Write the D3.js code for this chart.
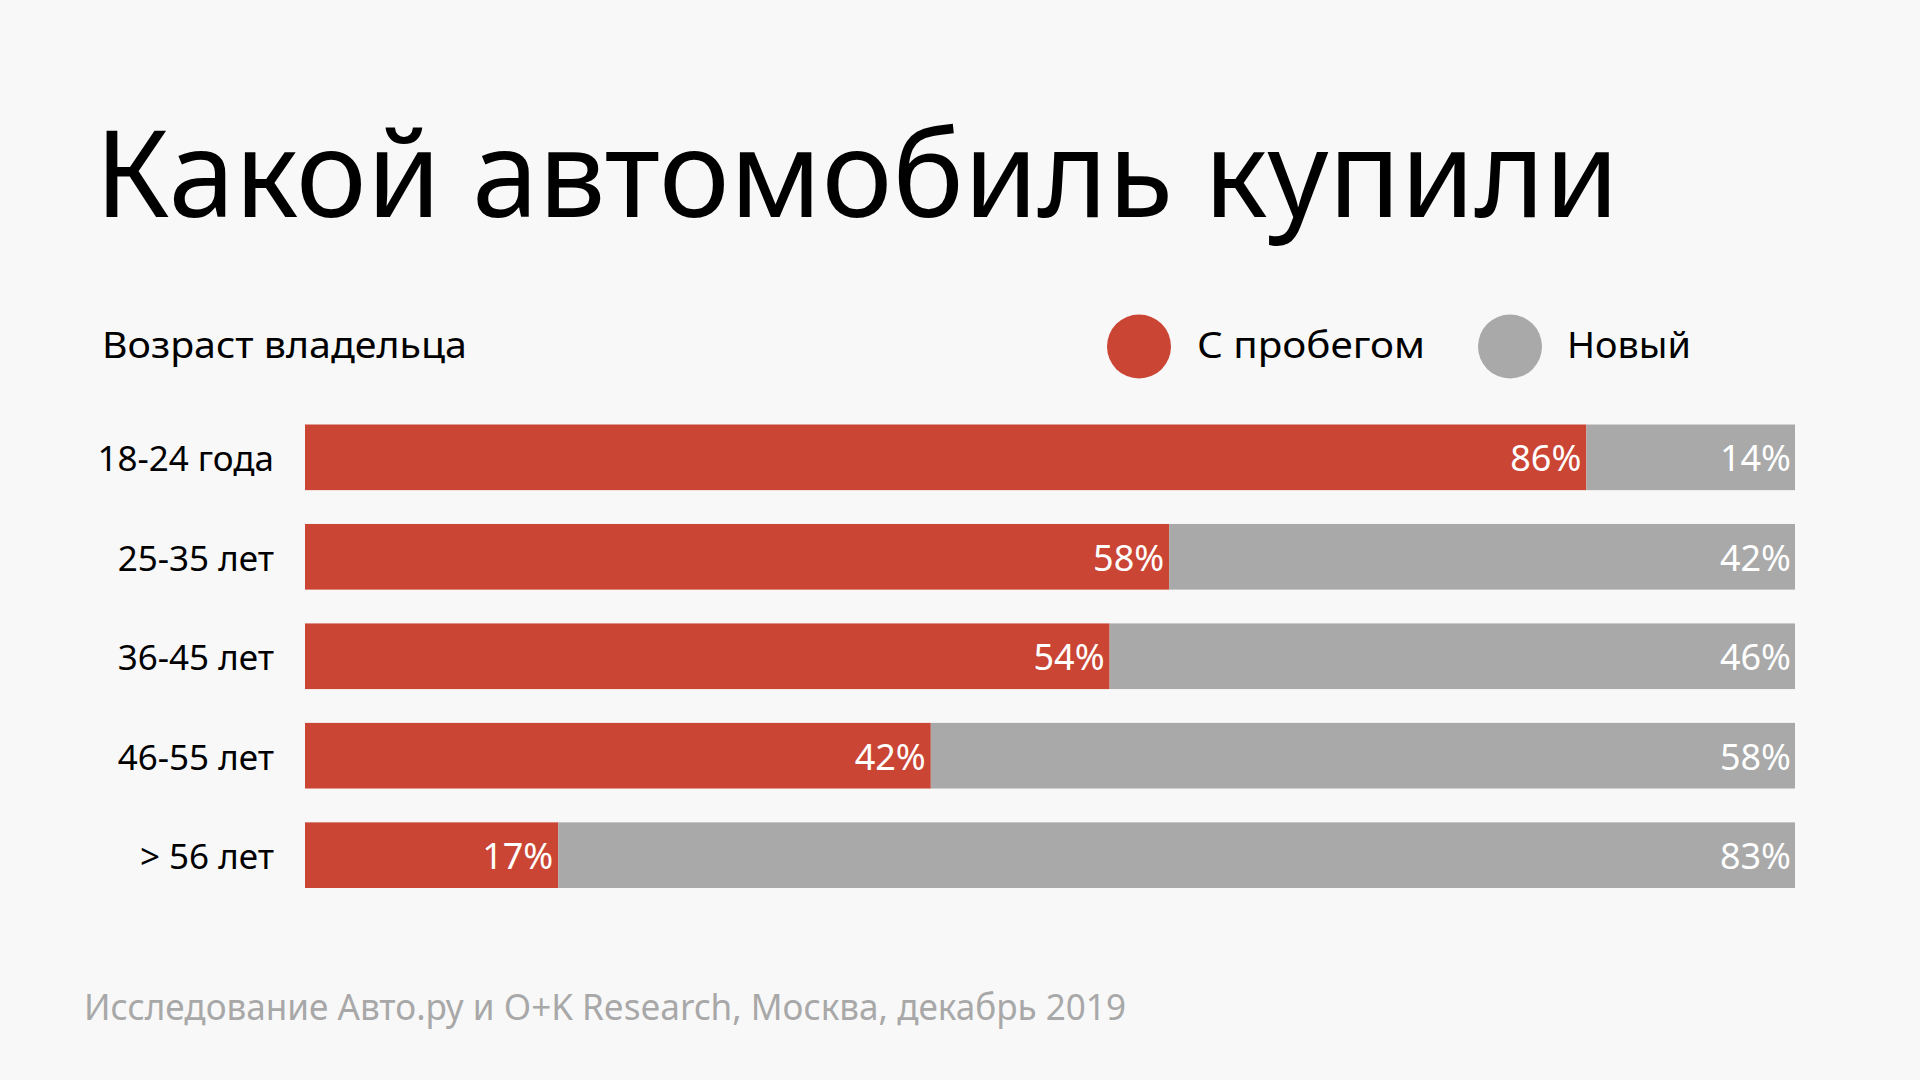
<!DOCTYPE html>
<html>
<head>
<meta charset="utf-8">
<script src="https://cdnjs.cloudflare.com/ajax/libs/d3/7.8.5/d3.min.js"></script>
<style>
  html, body { margin: 0; padding: 0; background: #f8f8f8; }
  svg { display: block; }
  text { font-family: "Noto Sans", sans-serif; }
</style>
</head>
<body>
<script>
// data
const categories = ["18-24 года", "25-35 лет", "36-45 лет", "46-55 лет", "> 56 лет"];
const usedShare = [86, 58, 54, 42, 17];
const newShare = [14, 42, 46, 58, 83];
const seriesNames = ["С пробегом", "Новый"];
const seriesColors = ["#cb4535", "#a8a9a8"];

const width = 1920, height = 1080;

const svg = d3.select("body").append("svg")
    .attr("width", width)
    .attr("height", height);

svg.append("rect").attr("width", width).attr("height", height).attr("fill", "#f8f8f8");

// title
svg.append("text")
    .attr("x", 95).attr("y", 217)
    .attr("font-size", 121)
    .attr("fill", "#000")
    .attr("textLength", 1524)
    .attr("lengthAdjust", "spacingAndGlyphs")
    .text("Какой автомобиль купили");

// axis caption
svg.append("text")
    .attr("x", 102).attr("y", 358)
    .attr("font-size", 37)
    .attr("textLength", 365)
    .attr("lengthAdjust", "spacingAndGlyphs")
    .text("Возраст владельца");

// legend
const legend = [
    {name: seriesNames[0], color: seriesColors[0], cx: 1139, tx: 1197, tw: 228},
    {name: seriesNames[1], color: seriesColors[1], cx: 1510, tx: 1567, tw: 124}
];
const lg = svg.selectAll("g.legend").data(legend).join("g").attr("class", "legend");
lg.append("circle")
    .attr("cx", d => d.cx).attr("cy", 346.5).attr("r", 32)
    .attr("fill", d => d.color);
lg.append("text")
    .attr("x", d => d.tx).attr("y", 358)
    .attr("font-size", 37)
    .attr("textLength", d => d.tw)
    .attr("lengthAdjust", "spacingAndGlyphs")
    .text(d => d.name);

// scales
const x = d3.scaleLinear().domain([0, 100]).range([305, 1795]);
const y = d3.scaleBand().domain(categories).range([424.5, 888]).paddingInner(0.34).paddingOuter(0);

const rows = categories.map((c, i) => ({cat: c, used: usedShare[i], nw: newShare[i]}));

const row = svg.selectAll("g.row").data(rows).join("g").attr("class", "row");

row.append("rect")
    .attr("x", x(0))
    .attr("y", d => y(d.cat))
    .attr("width", d => x(d.used) - x(0))
    .attr("height", y.bandwidth())
    .attr("fill", seriesColors[0]);

row.append("rect")
    .attr("x", d => x(d.used))
    .attr("y", d => y(d.cat))
    .attr("width", d => x(d.used + d.nw) - x(d.used))
    .attr("height", y.bandwidth())
    .attr("fill", seriesColors[1]);

// category labels
row.append("text")
    .attr("x", 274)
    .attr("y", d => y(d.cat) + y.bandwidth() / 2 + 14)
    .attr("text-anchor", "end")
    .attr("font-size", 35)
    .attr("fill", "#000")
    .text(d => d.cat);

// value labels
row.append("text")
    .attr("x", d => x(d.used) - 5)
    .attr("y", d => y(d.cat) + y.bandwidth() / 2 + 14)
    .attr("text-anchor", "end")
    .attr("font-size", 36)
    .attr("fill", "#fff")
    .text(d => d.used + "%");

row.append("text")
    .attr("x", d => x(d.used + d.nw) - 4)
    .attr("y", d => y(d.cat) + y.bandwidth() / 2 + 14)
    .attr("text-anchor", "end")
    .attr("font-size", 36)
    .attr("fill", "#fff")
    .text(d => d.nw + "%");

// source
svg.append("text")
    .attr("x", 84).attr("y", 1020)
    .attr("font-size", 36)
    .attr("fill", "#a8a8a8")
    .attr("textLength", 1042)
    .attr("lengthAdjust", "spacingAndGlyphs")
    .text("Исследование Авто.ру и O+K Research, Москва, декабрь 2019");
</script>
</body>
</html>
